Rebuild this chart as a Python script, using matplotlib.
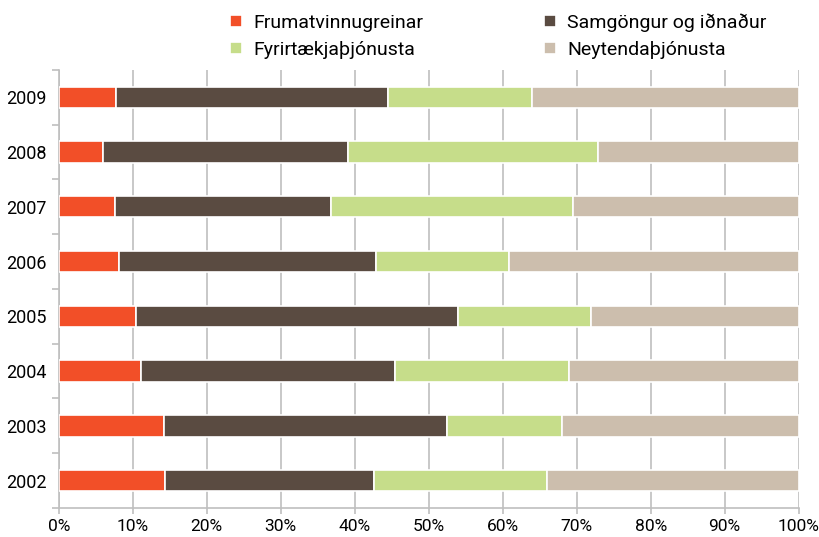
import matplotlib
matplotlib.use("Agg")
import matplotlib.pyplot as plt
import numpy as np

plt.rcParams['font.family'] = ['Roboto', 'DejaVu Sans']

years = ["2002", "2003", "2004", "2005", "2006", "2007", "2008", "2009"]
series_names = ["Frumatvinnugreinar", "Samgöngur og iðnaður", "Fyrirtækjaþjónusta", "Neytendaþjónusta"]
frum = [14.3, 14.2, 11.1, 10.5, 8.1, 7.6, 6.0, 7.8]
samg = [28.3, 38.3, 34.4, 43.5, 34.8, 29.2, 33.1, 36.7]
fyrir = [23.4, 15.5, 23.4, 18.0, 18.0, 32.7, 33.8, 19.4]
neyt = [34.0, 32.0, 31.1, 28.0, 39.1, 30.5, 27.1, 36.1]
colors = ["#F24F28", "#5A4B41", "#C6DD8A", "#CCBEAD"]

fig = plt.figure(figsize=(8.2, 5.37), dpi=100)
ax = fig.add_axes([0.0716, 0.054, 0.9024, 0.816])

y = np.arange(len(years))
left = np.zeros(len(years))
handles = []
for vals, name, c in zip([frum, samg, fyrir, neyt], series_names, colors):
    h = ax.barh(y, vals, left=left, height=0.39, color=c, edgecolor="white",
                linewidth=1.2, label=name, zorder=3)
    handles.append(h)
    left += np.array(vals)

ax.set_xlim(0, 100)
ax.set_ylim(-0.5, len(years) - 0.5)
ax.set_xticks(np.arange(0, 101, 10))
ax.set_xticklabels([f"{v}%" for v in range(0, 101, 10)], fontsize=12.5)
ax.set_yticks(y)
ax.set_yticklabels(years, fontsize=13)
ax.set_yticks(np.arange(-0.5, len(years), 1), minor=True)
ax.tick_params(axis='y', which='major', length=0, pad=9)
ax.tick_params(axis='y', which='minor', length=5, color="#BFBFBF", width=1.2)
ax.tick_params(axis='x', which='major', length=4, color="#BFBFBF", width=1.2, pad=4)
ax.grid(axis='x', color="#C4C4C4", linewidth=1.3, zorder=0)
ax.set_axisbelow(True)
for s in ["top", "right"]:
    ax.spines[s].set_visible(False)
for s in ["left", "bottom"]:
    ax.spines[s].set_color("#BFBFBF")
    ax.spines[s].set_linewidth(1.2)

order = [0, 2, 1, 3]
fig.legend([handles[i] for i in order], [series_names[i] for i in order],
           ncol=2, loc="upper left", bbox_to_anchor=(0.2805, 0.975), frameon=False,
           fontsize=14, handlelength=0.6, handleheight=0.6, handletextpad=0.6,
           columnspacing=6.2, labelspacing=0.45, borderpad=0, borderaxespad=0)

fig.savefig("out.png", dpi=100)
